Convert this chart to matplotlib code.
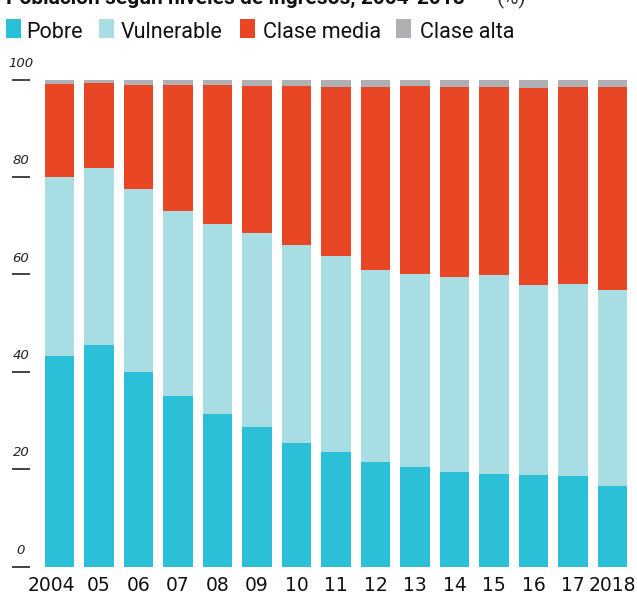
import matplotlib
matplotlib.use("Agg")
import matplotlib.pyplot as plt
import numpy as np
from matplotlib.patches import Rectangle
from matplotlib.transforms import blended_transform_factory, ScaledTranslation

years = ["2004", "05", "06", "07", "08", "09", "10", "11", "12", "13", "14", "15", "16", "17", "2018"]
pobre = [43.2, 45.4, 40.0, 35.1, 31.4, 28.7, 25.3, 23.6, 21.4, 20.5, 19.5, 18.9, 18.7, 18.5, 16.6]
vulnerable = [36.7, 36.5, 37.6, 38.0, 38.9, 39.7, 40.8, 40.1, 39.4, 39.5, 39.9, 40.9, 39.2, 39.6, 40.1]
clase_media = [19.2, 17.4, 21.3, 25.8, 28.6, 30.3, 32.6, 34.8, 37.7, 38.7, 39.1, 38.7, 40.3, 40.4, 41.8]
clase_alta = [0.8, 0.8, 1.1, 1.1, 1.1, 1.3, 1.3, 1.5, 1.5, 1.3, 1.5, 1.5, 1.8, 1.5, 1.5]
series_names = ["Pobre", "Vulnerable", "Clase media", "Clase alta"]
colors = ["#2cc0d8", "#a8dde3", "#e84624", "#b0b0b4"]
yticks = [0, 20, 40, 60, 80, 100]

W, H = 637, 599
NARROW = ["Roboto", "DejaVu Sans"]

fig = plt.figure(figsize=(W / 100, H / 100), dpi=100)
# axes placed in pixel terms: left 30, right 637, y=0 at 566.5, y=100 at 79.5
ax = fig.add_axes([30 / W, (H - 566.5) / H, (W - 30) / W, (566.5 - 79.5) / H])

x = np.arange(len(years))
bottom = np.zeros(len(years))
for name, vals, c in zip(series_names, [pobre, vulnerable, clase_media, clase_alta], colors):
    ax.bar(x, vals, width=0.735, bottom=bottom, color=c, linewidth=0)
    bottom += np.array(vals)

ax.set_xlim(-0.747, 14.62)
ax.set_ylim(0, 100)
for s in ax.spines.values():
    s.set_visible(False)
ax.set_yticks([])
ax.set_xticks(x)
ax.set_xticklabels(years, fontsize=13.5, family="DejaVu Sans", color="#111111")
ax.tick_params(axis="x", length=0, pad=7)
# first label sits a little left of its bar, as in the original
labels = ax.get_xticklabels()
labels[0].set_transform(labels[0].get_transform() + ScaledTranslation(-8 / 100, 0, fig.dpi_scale_trans))

# y tick marks and italic labels sit to the left of the bars
tr = blended_transform_factory(fig.transFigure, ax.transData)
for t in yticks:
    ax.plot([12 / W, 30 / W], [t, t], transform=tr, color="#111111", lw=1.1,
            clip_on=False, solid_capstyle="butt")
    ax.text(21 / W, t + 2.0, str(t), transform=tr, ha="center", va="bottom",
            fontsize=9.5, style="italic", color="#222222")

# legend row
def fx(px):
    return px / W

def fy(py):
    return 1 - py / H

legend_sq = [6, 99, 240, 396]
legend_tx = [26, 121, 263, 420]
for name, c, sq, tx in zip(series_names, colors, legend_sq, legend_tx):
    fig.add_artist(Rectangle((fx(sq), fy(38)), 15 / W, 19 / H, transform=fig.transFigure,
                             color=c, lw=0))
    fig.text(fx(tx), fy(37.5), name, family=NARROW, fontsize=15.5, va="baseline",
             ha="left", color="#111111")

# title, cut by the top edge
fig.text(fx(6), fy(4), "Población según niveles de ingresos, 2004-2018", family=NARROW,
         fontsize=15, weight="bold", va="baseline", ha="left", color="#111111")
fig.text(fx(497), fy(4), "(%)", family=NARROW, fontsize=15, va="baseline", ha="left",
         color="#333333")

fig.savefig("out.png", dpi=100)
